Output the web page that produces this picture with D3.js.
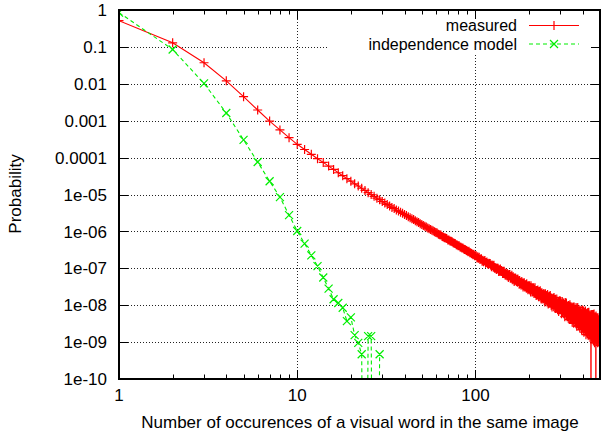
<!DOCTYPE html>
<html><head><meta charset="utf-8">
<script src="https://cdn.jsdelivr.net/npm/d3@7/dist/d3.min.js"></script>
<style>
body{margin:0;background:#fff}
text{font-family:"Liberation Sans",Arial,Helvetica,sans-serif;font-size:17px;fill:#000}
text.leg{font-size:16px}
</style>
</head><body>
<svg id="chart" width="602" height="436"></svg>
<script>
const seriesNames = ["measured", "independence model"];
const seriesColors = ["#ff0000", "#00ee00"];
const xTitle = "Number of occurences of a visual word in the same image";
const yTitle = "Probability";
const xTickValues = [1, 10, 100];
const xTickLabels = ["1", "10", "100"];
const yTickValues = [1, 0.1, 0.01, 0.001, 0.0001, 1e-5, 1e-6, 1e-7, 1e-8, 1e-9, 1e-10];
const yTickLabels = ["1", "0.1", "0.01", "0.001", "0.0001", "1e-05", "1e-06", "1e-07", "1e-08", "1e-09", "1e-10"];

// log10 of probability for occurrence counts 1..500 (-20 = zero, below axis)
const measuredLog10 = [
-0.29,-0.89,-1.43,-1.92,-2.35,-2.71,-3.01,-3.25,-3.46,-3.64,
-3.78,-3.91,-4.03,-4.13,-4.23,-4.32,-4.41,-4.49,-4.57,-4.64,
-4.71,-4.77,-4.83,-4.89,-4.95,-5.00,-5.05,-5.10,-5.14,-5.19,
-5.23,-5.27,-5.31,-5.35,-5.38,-5.42,-5.45,-5.48,-5.51,-5.54,
-5.57,-5.60,-5.63,-5.66,-5.68,-5.71,-5.74,-5.76,-5.79,-5.81,
-5.84,-5.86,-5.88,-5.91,-5.93,-5.95,-5.97,-5.99,-6.01,-6.03,
-6.04,-6.08,-6.09,-6.10,-6.14,-6.15,-6.17,-6.18,-6.19,-6.23,
-6.23,-6.26,-6.27,-6.28,-6.31,-6.32,-6.33,-6.36,-6.37,-6.39,
-6.39,-6.42,-6.43,-6.45,-6.45,-6.48,-6.49,-6.50,-6.52,-6.53,
-6.55,-6.54,-6.58,-6.58,-6.60,-6.61,-6.63,-6.62,-6.66,-6.66,
-6.66,-6.72,-6.69,-6.73,-6.70,-6.76,-6.75,-6.74,-6.81,-6.78,
-6.82,-6.80,-6.79,-6.86,-6.84,-6.83,-6.87,-6.90,-6.86,-6.88,
-6.87,-6.92,-6.96,-6.91,-6.93,-6.97,-6.92,-7.00,-6.98,-7.00,
-7.03,-6.99,-7.02,-7.00,-7.09,-7.04,-7.08,-7.02,-7.08,-7.06,
-7.08,-7.14,-7.08,-7.14,-7.08,-7.15,-7.19,-7.13,-7.16,-7.20,
-7.14,-7.21,-7.25,-7.17,-7.21,-7.17,-7.27,-7.22,-7.27,-7.19,
-7.31,-7.24,-7.23,-7.31,-7.36,-7.26,-7.30,-7.26,-7.34,-7.36,
-7.30,-7.38,-7.29,-7.36,-7.34,-7.43,-7.33,-7.41,-7.38,-7.45,
-7.40,-7.36,-7.45,-7.40,-7.51,-7.40,-7.46,-7.39,-7.51,-7.45,
-7.51,-7.44,-7.54,-7.42,-7.50,-7.48,-7.58,-7.47,-7.52,-7.56,
-7.47,-7.59,-7.52,-7.64,-7.47,-7.58,-7.53,-7.64,-7.57,-7.53,
-7.62,-7.53,-7.68,-7.58,-7.62,-7.53,-7.68,-7.61,-7.74,-7.60,
-7.60,-7.71,-7.65,-7.59,-7.71,-7.77,-7.65,-7.63,-7.71,-7.77,
-7.61,-7.74,-7.67,-7.83,-7.70,-7.66,-7.79,-7.74,-7.83,-7.70,
-7.82,-7.68,-7.79,-7.72,-7.91,-7.75,-7.69,-7.86,-7.79,-7.84,
-7.74,-7.91,-7.79,-7.71,-7.88,-7.97,-7.78,-7.86,-7.76,-7.93,
-7.82,-7.93,-7.74,-7.90,-7.79,-8.00,-7.88,-7.83,-8.05,-7.88,
-7.99,-7.81,-7.95,-7.86,-8.04,-7.79,-7.94,-8.00,-7.86,-8.09,
-7.84,-8.00,-7.94,-8.09,-7.89,-7.83,-8.05,-7.94,-8.09,-7.96,
-8.05,-7.90,-8.17,-7.95,-7.89,-8.05,-8.12,-7.87,-8.02,-8.10,
-7.90,-8.12,-8.00,-8.23,-7.96,-8.07,-7.90,-8.18,-8.00,-8.12,
-8.05,-7.94,-8.23,-8.01,-8.15,-7.98,-8.31,-8.07,-7.93,-8.20,
-8.15,-8.02,-8.25,-7.94,-8.20,-8.08,-8.31,-8.02,-8.15,-8.07,
-8.31,-8.11,-8.01,-8.26,-8.09,-8.39,-8.06,-8.21,-7.99,-8.26,
-8.07,-8.33,-8.16,-8.04,-8.39,-8.12,-8.26,-8.07,-8.46,-8.20,
-8.13,-8.40,-8.05,-8.29,-8.11,-8.49,-8.20,-8.05,-8.36,-8.27,
-8.11,-8.35,-8.47,-8.16,-8.25,-8.43,-8.06,-8.33,-8.20,-8.57,
-8.10,-8.33,-8.20,-8.48,-8.06,-8.43,-8.26,-8.54,-8.18,-8.39,
-8.46,-8.12,-8.35,-8.20,-8.61,-8.27,-8.17,-8.54,-8.32,-8.45,
-8.14,-8.44,-8.25,-8.67,-8.21,-8.40,-8.31,-8.59,-8.13,-8.51,
-8.21,-8.65,-8.32,-8.51,-8.16,-8.73,-8.29,-8.41,-8.58,-8.20,
-8.47,-8.27,-8.66,-8.16,-8.57,-8.34,-8.80,-8.25,-8.46,-8.64,
-8.22,-8.57,-8.41,-8.74,-8.29,-8.53,-8.20,-8.81,-8.37,-8.62,
-8.40,-8.70,-8.19,-8.57,-8.80,-8.35,-8.67,-8.29,-8.54,-8.38,
-8.78,-8.32,-8.61,-8.26,-20,-8.48,-8.87,-8.36,-8.74,-8.25,
-8.66,-8.45,-8.92,-8.32,-8.60,-8.25,-8.79,-8.44,-8.97,-8.39,
-8.51,-8.84,-8.24,-8.73,-8.37,-9.02,-8.44,-8.67,-8.32,-8.89,
-8.38,-8.76,-8.51,-20,-8.29,-8.98,-8.58,-8.36,-8.83,-8.50,
-8.94,-8.34,-8.73,-8.46,-9.02,-8.56,-8.34,-8.82,-8.50,-8.89,
-8.40,-8.71,-9.00,-8.45,-8.62,-8.94,-8.32,-8.79,-8.58,-9.09
];
// log10 of probability for counts 1..29 (-20 = zero, below axis)
const modelLog10 = [
-0.07,-1.07,-1.99,-2.79,-3.52,-4.12,-4.64,-5.07,-5.56,-5.99,
-6.33,-6.65,-6.94,-7.25,-7.55,-7.84,-7.94,-8.07,-8.43,-8.33,
-8.81,-9.02,-9.33,-20,-8.84,-8.84,-20,-20,-9.33
];

const L = 119, R = 600, T = 10, B = 379;
const svg = d3.select("#chart");
const x = d3.scaleLog().domain([1, 500]).range([L, R]);
const y = d3.scaleLog().domain([1e-10, 1]).range([B, T]);

const toPts = arr => arr.map((v, i) => ({x: i + 1, y: Math.pow(10, v)}));
const measured = toPts(measuredLog10);
const model = toPts(modelLog10);

// grid
const grid = svg.append("g").attr("stroke", "#222").attr("stroke-width", 1)
  .attr("stroke-dasharray", "1,2");
yTickValues.filter(v => v < 1 && v > 1e-10).forEach(v => {
  const yy = Math.round(y(v)) + 0.5;
  grid.append("line").attr("x1", L).attr("x2", R).attr("y1", yy).attr("y2", yy);
});
xTickValues.filter(v => v > 1).forEach(v => {
  const xx = Math.round(x(v)) + 0.5;
  grid.append("line").attr("x1", xx).attr("x2", xx).attr("y1", T).attr("y2", B);
});
// key area blanks the grid
svg.append("rect").attr("x", 327).attr("y", T + 1).attr("width", R - 327 - 1).attr("height", 43).attr("fill", "#fff");

// ticks
const ticks = svg.append("g").attr("stroke", "#000").attr("stroke-width", 1);
yTickValues.forEach(v => {
  const yy = Math.round(y(v)) + 0.5;
  ticks.append("line").attr("x1", L).attr("x2", L + 9).attr("y1", yy).attr("y2", yy);
  ticks.append("line").attr("x1", R).attr("x2", R - 9).attr("y1", yy).attr("y2", yy);
});
const xMinor = [];
[1, 10, 100].forEach(d => { for (let k = 2; k <= 9; k++) if (d * k < 500) xMinor.push(d * k); });
xTickValues.forEach(v => {
  const xx = Math.round(x(v)) + 0.5;
  ticks.append("line").attr("x1", xx).attr("x2", xx).attr("y1", B).attr("y2", B - 9);
  ticks.append("line").attr("x1", xx).attr("x2", xx).attr("y1", T).attr("y2", T + 9);
});
xMinor.forEach(v => {
  const xx = Math.round(x(v)) + 0.5;
  ticks.append("line").attr("x1", xx).attr("x2", xx).attr("y1", B).attr("y2", B - 4.5);
  ticks.append("line").attr("x1", xx).attr("x2", xx).attr("y1", T).attr("y2", T + 4.5);
});

// tick labels
yTickValues.forEach((v, i) => {
  svg.append("text").attr("x", 107).attr("y", y(v)).attr("dy", "0.36em")
    .attr("text-anchor", "end").text(yTickLabels[i]);
});
xTickValues.forEach((v, i) => {
  svg.append("text").attr("x", x(v)).attr("y", 401).attr("text-anchor", "middle").text(xTickLabels[i]);
});

// axis titles
svg.append("text").attr("x", 360).attr("y", 428).attr("text-anchor", "middle").text(xTitle);
svg.append("text").attr("transform", "translate(21,194) rotate(-90)").attr("text-anchor", "middle").text(yTitle);

// data
svg.append("clipPath").attr("id", "clip").append("rect")
  .attr("x", L).attr("y", T).attr("width", R - L).attr("height", B - T);
const plot = svg.append("g").attr("clip-path", "url(#clip)");
const line = d3.line().x(d => x(d.x)).y(d => y(d.y));

const plusPath = (px, py, s) => `M${px - s},${py}H${px + s}M${px},${py - s}V${py + s}`;
const crossPath = (px, py, s) => `M${px - s},${py - s}L${px + s},${py + s}M${px - s},${py + s}L${px + s},${py - s}`;

plot.append("path").datum(measured).attr("d", line)
  .attr("fill", "none").attr("stroke", seriesColors[0]).attr("stroke-width", 1.1);
plot.append("path")
  .attr("d", measured.map(d => plusPath(x(d.x), y(d.y), 4.5)).join(""))
  .attr("fill", "none").attr("stroke", seriesColors[0]).attr("stroke-width", 1.2);

plot.append("path").datum(model).attr("d", line)
  .attr("fill", "none").attr("stroke", seriesColors[1]).attr("stroke-width", 1.1)
  .attr("stroke-dasharray", "4,3");
plot.append("path")
  .attr("d", model.map(d => crossPath(x(d.x), y(d.y), 4)).join(""))
  .attr("fill", "none").attr("stroke", seriesColors[1]).attr("stroke-width", 1.2);

// border
svg.append("rect").attr("x", L).attr("y", T).attr("width", R - L).attr("height", B - T)
  .attr("fill", "none").attr("stroke", "#000").attr("stroke-width", 2);

// legend
const legY = [25.5, 44];
seriesNames.forEach((name, i) => {
  svg.append("text").attr("class", "leg").attr("x", 517).attr("y", legY[i] + 5.5)
    .attr("text-anchor", "end").text(name);
  const ln = svg.append("line").attr("x1", 529).attr("x2", 579).attr("y1", legY[i]).attr("y2", legY[i])
    .attr("stroke", seriesColors[i]).attr("stroke-width", 1.1);
  if (i === 1) ln.attr("stroke-dasharray", "4,3");
  svg.append("path").attr("d", i === 0 ? plusPath(554, legY[i], 4.5) : crossPath(554, legY[i], 4))
    .attr("fill", "none").attr("stroke", seriesColors[i]).attr("stroke-width", 1.2);
});
</script>
</body></html>
